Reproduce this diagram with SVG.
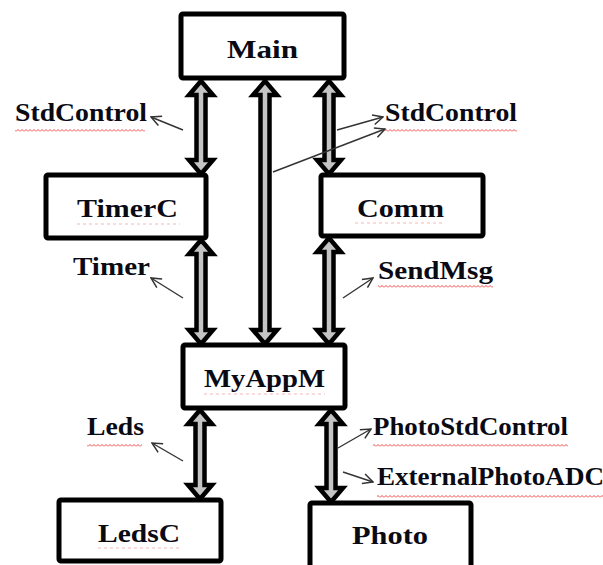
<svg xmlns="http://www.w3.org/2000/svg" width="603" height="565" viewBox="0 0 603 565">
<style>
.box{fill:#fff;stroke:#000;stroke-width:5;stroke-linejoin:round}
.t{font-family:"Liberation Serif","Times New Roman",serif;font-weight:bold;font-size:26px;fill:#0a0a14}
.ba{fill:#c4c4c4;stroke:#000;stroke-width:4.5;stroke-linejoin:miter;stroke-miterlimit:10}
.pt{fill:none;stroke:#333;stroke-width:1.4;marker-end:url(#oa)}
.dot{stroke:#f4b8b8;stroke-width:1;stroke-dasharray:3 3}
</style>
<defs>
<marker id="oa" viewBox="0 0 12 12" refX="11" refY="6" markerWidth="12" markerHeight="12" orient="auto" markerUnits="userSpaceOnUse">
<path d="M1,1 L11,6 L1,11" fill="none" stroke="#333" stroke-width="1.5"/>
</marker>
<pattern id="wave" width="4" height="3" patternUnits="userSpaceOnUse">
<path d="M0,2.5 L2,0.5 L4,2.5" fill="none" stroke="#e33" stroke-width="0.9"/>
</pattern>
</defs>
<rect width="603" height="565" fill="#fff"/>

<g id="connectors">
<!-- Main - TimerC -->
<polygon class="ba" points="201,81 213,95 205.5,95 205.5,160 213,160 201,174 189,160 196.5,160 196.5,95 189,95"/>
<!-- Main - MyAppM -->
<polygon class="ba" points="265,81 277,95 269.5,95 269.5,330 277,330 265,344 253,330 260.5,330 260.5,95 253,95"/>
<!-- Main - Comm -->
<polygon class="ba" points="329,81 341,95 333.5,95 333.5,160 341,160 329,174 317,160 324.5,160 324.5,95 317,95"/>
<!-- TimerC - MyAppM -->
<polygon class="ba" points="201,240 213,254 205.5,254 205.5,330 213,330 201,344 189,330 196.5,330 196.5,254 189,254"/>
<!-- Comm - MyAppM -->
<polygon class="ba" points="329,238 341,252 333.5,252 333.5,330 341,330 329,344 317,330 324.5,330 324.5,252 317,252"/>
<!-- MyAppM - LedsC -->
<polygon class="ba" points="200,410 212,424 204.5,424 204.5,485 212,485 200,499 188,485 195.5,485 195.5,424 188,424"/>
<!-- MyAppM - Photo -->
<polygon class="ba" points="331,410 343,424 335.5,424 335.5,488 343,488 331,502 319,488 326.5,488 326.5,424 319,424"/>
</g>

<g id="labels">
<line class="pt" x1="183" y1="130" x2="151" y2="117"/>
<line class="pt" x1="337" y1="130" x2="383" y2="117"/>
<line class="pt" x1="273" y1="172" x2="385" y2="129"/>
<line class="pt" x1="183" y1="298" x2="151" y2="278"/>
<line class="pt" x1="343" y1="298" x2="373" y2="278"/>
<line class="pt" x1="183" y1="461" x2="152" y2="443"/>
<line class="pt" x1="338" y1="448" x2="371" y2="429"/>
<line class="pt" x1="343" y1="472" x2="373" y2="482"/>

<text class="t" x="15" y="121" textLength="132" lengthAdjust="spacingAndGlyphs">StdControl</text>
<rect x="15" y="129" width="130" height="3" fill="url(#wave)"/>
<text class="t" x="385" y="121" textLength="132" lengthAdjust="spacingAndGlyphs">StdControl</text>
<rect x="385" y="129" width="132" height="3" fill="url(#wave)"/>
<text class="t" x="73" y="275" textLength="77" lengthAdjust="spacingAndGlyphs">Timer</text>
<text class="t" x="378" y="279" textLength="115" lengthAdjust="spacingAndGlyphs">SendMsg</text>
<rect x="378" y="285" width="115" height="3" fill="url(#wave)"/>
<text class="t" x="87" y="435" textLength="57" lengthAdjust="spacingAndGlyphs">Leds</text>
<rect x="87" y="444" width="55" height="3" fill="url(#wave)"/>
<text class="t" x="373" y="435" textLength="195" lengthAdjust="spacingAndGlyphs">PhotoStdControl</text>
<rect x="373" y="444" width="195" height="3" fill="url(#wave)"/>
<text class="t" x="377" y="485" textLength="227" lengthAdjust="spacingAndGlyphs">ExternalPhotoADC</text>
<rect x="377" y="495" width="226" height="3" fill="url(#wave)"/>
</g>

<g id="Main">
<rect class="box" x="181" y="14" width="163" height="64" rx="2"/>
<text class="t" x="227" y="58" textLength="71" lengthAdjust="spacingAndGlyphs">Main</text>
</g>
<g id="TimerC">
<rect class="box" x="46" y="175" width="160" height="63" rx="2"/>
<text class="t" x="77" y="217" textLength="101" lengthAdjust="spacingAndGlyphs">TimerC</text>
<line class="dot" x1="77" y1="224" x2="180" y2="224"/>
</g>
<g id="Comm">
<rect class="box" x="321" y="175" width="162" height="61" rx="2"/>
<text class="t" x="357" y="217" textLength="87" lengthAdjust="spacingAndGlyphs">Comm</text>
<line class="dot" x1="355" y1="223" x2="445" y2="223"/>
</g>
<g id="MyAppM">
<rect class="box" x="183" y="345" width="162" height="63" rx="2"/>
<text class="t" x="204" y="387" textLength="121" lengthAdjust="spacingAndGlyphs">MyAppM</text>
<line class="dot" x1="204" y1="394" x2="325" y2="394"/>
</g>
<g id="LedsC">
<rect class="box" x="59" y="500" width="162" height="61" rx="2"/>
<text class="t" x="98" y="542" textLength="82" lengthAdjust="spacingAndGlyphs">LedsC</text>
<line class="dot" x1="98" y1="548" x2="180" y2="548"/>
</g>
<g id="Photo">
<rect class="box" x="310" y="503" width="161" height="66" rx="2"/>
<text class="t" x="352" y="544" textLength="76" lengthAdjust="spacingAndGlyphs">Photo</text>
</g>
</svg>
